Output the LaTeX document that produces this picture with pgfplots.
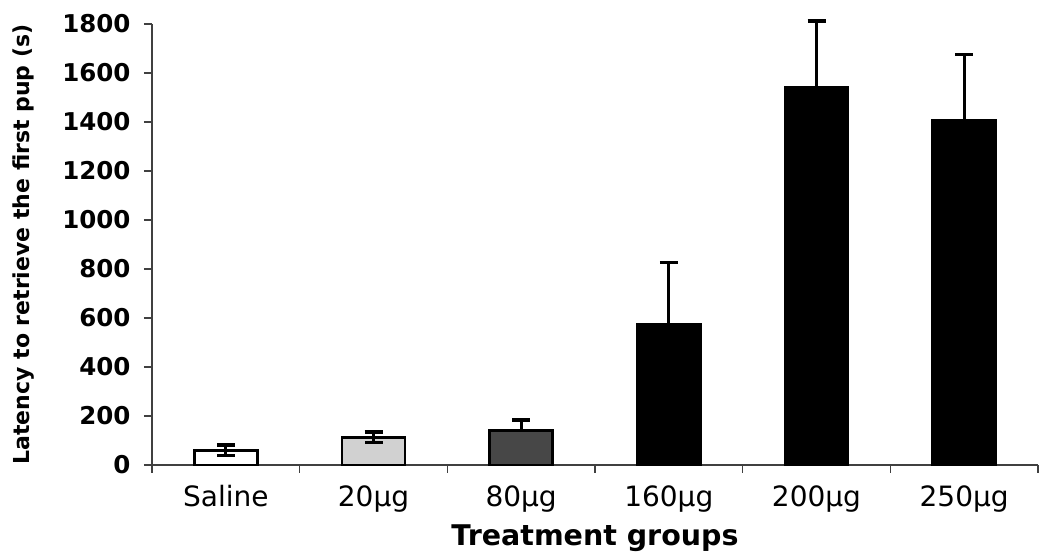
\documentclass[border=0pt]{standalone}
\usepackage{fontspec}
\setmainfont{DejaVu Sans}
\usepackage{pgfplots}
\pgfplotsset{compat=1.18}
\pgfplotsset{
  mybar/.style={ybar, bar width=63pt, bar shift=0pt, draw=black, line width=2.8pt,
    error bars/y explicit,
    error bars/error bar style={line width=3.2pt, black},
    error bars/error mark options={rotate=90, mark size=9pt, line width=3.2pt, black}},
}
\begin{document}
\begin{tikzpicture}
\useasboundingbox (0,0) rectangle (1039pt,556pt);
\begin{axis}[
  at={(152pt,91pt)}, anchor=south west,
  scale only axis, width=886pt, height=441pt,
  xmin=-0.5, xmax=5.5, ymin=0, ymax=1800,
  axis x line*=bottom, axis y line*=left,
  axis line style={line width=1.2pt, black!75},
  ytick={0,200,...,1800},
  xtick={0,...,5},
  xticklabels={Saline,20µg,80µg,160µg,200µg,250µg},
  minor xtick={-0.5,0.5,...,5.5},
  major x tick style={draw=none},
  tick align=outside,
  major tick length=8pt, minor tick length=8pt,
  tick style={line width=1.2pt, black!75},
  /pgf/number format/assume math mode=true,
  /pgf/number format/1000 sep={},
  yticklabel style={font=\bfseries\fontsize{24.5}{28}\selectfont, anchor=east, xshift=-10pt},
  xticklabel style={font=\fontsize{28}{32}\selectfont, anchor=base, yshift=-34pt},
  xlabel={Treatment groups},
  ylabel={Latency to retrieve the first pup (s)},
  xlabel style={font=\bfseries\fontsize{28.5}{32}\selectfont, at={(axis description cs:0.5,0)}, anchor=base, yshift=-81pt},
  ylabel style={font=\bfseries\fontsize{22}{26}\selectfont, at={(axis description cs:-0.145,0.5)}, anchor=center, rotate=0},
  clip=false,
]
\addplot[mybar, fill=white, error bars/y dir=both] coordinates {(0,60) +- (0,22)};
\addplot[mybar, fill=black!18, error bars/y dir=both] coordinates {(1,113) +- (0,22)};
\addplot[mybar, fill=black!72, error bars/y dir=plus] coordinates {(2,140) +- (0,44)};
\addplot[mybar, fill=black, error bars/y dir=plus] coordinates {(3,572) +- (0,256)};
\addplot[mybar, fill=black, error bars/y dir=plus] coordinates {(4,1540) +- (0,272)};
\addplot[mybar, fill=black, error bars/y dir=plus] coordinates {(5,1408) +- (0,266)};
\end{axis}
\end{tikzpicture}
\end{document}
